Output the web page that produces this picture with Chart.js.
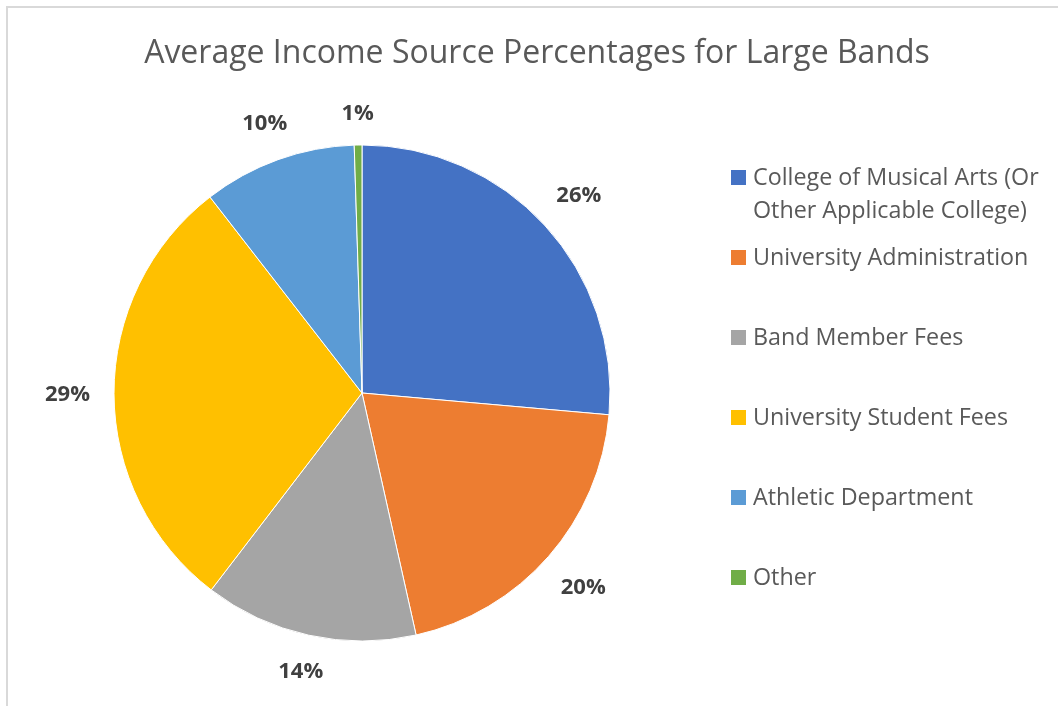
<!DOCTYPE html>
<html>
<head>
<meta charset="utf-8">
<script src="https://cdn.jsdelivr.net/npm/chart.js@4/dist/chart.umd.min.js"></script>
<style>
  html, body { margin: 0; padding: 0; background: #fff; overflow: hidden; }
  #frame { position: absolute; left: 6px; top: 6px; width: 1200px; height: 800px;
           border-left: 2px solid #d9d9d9; border-top: 2px solid #d9d9d9; }
  #wrap { position: absolute; left: 0; top: 0; width: 1058px; height: 706px; }
</style>
</head>
<body>
<div id="frame"></div>
<div id="wrap"><canvas id="pie"></canvas></div>
<script>
const chartTitle = 'Average Income Source Percentages for Large Bands';
const categories = [
  ['College of Musical Arts (Or', 'Other Applicable College)'],
  'University Administration',
  'Band Member Fees',
  'University Student Fees',
  'Athletic Department',
  'Other',
];
const shares = [26.4, 20.1, 13.9, 29.1, 10.0, 0.5];
const colors = ['#4472C4', '#ED7D31', '#A5A5A5', '#FFC000', '#5B9BD5', '#70AD47'];

const FONT = '"Open Sans", "Noto Sans", sans-serif';

// percentage labels just outside each slice
const pctLabels = {
  id: 'pctLabels',
  afterDatasetsDraw(chart) {
    const ctx = chart.ctx;
    const meta = chart.getDatasetMeta(0);
    const total = shares.reduce((a, b) => a + b, 0);
    ctx.save();
    ctx.font = 'bold 22px ' + FONT;
    ctx.fillStyle = '#404040';
    ctx.textAlign = 'center';
    ctx.textBaseline = 'middle';
    meta.data.forEach((arc, i) => {
      const p = arc.getProps(['x', 'y', 'startAngle', 'endAngle', 'outerRadius'], true);
      const mid = (p.startAngle + p.endAngle) / 2;
      const text = Math.round(shares[i] / total * 100) + '%';
      const w = ctx.measureText(text).width;
      const dx = Math.cos(mid), dy = Math.sin(mid);
      const d = p.outerRadius + 24 + Math.abs(dx) * w / 2 + Math.abs(dy) * 8;
      ctx.fillText(text, p.x + dx * d, p.y + dy * d + 1);
    });
    ctx.restore();
  }
};

// title + legend on the right
const sideText = {
  id: 'sideText',
  afterDraw(chart) {
    const ctx = chart.ctx;
    ctx.save();
    ctx.fillStyle = '#595959';
    ctx.font = '32px ' + FONT;
    ctx.textAlign = 'center';
    ctx.textBaseline = 'alphabetic';
    ctx.fillText(chartTitle, 537, 63);

    ctx.font = '23.3px ' + FONT;
    ctx.textAlign = 'left';
    ctx.textBaseline = 'middle';
    chart.data.labels.forEach((lab, i) => {
      const lines = [].concat(lab);
      const cy = 176 + 80 * i;
      ctx.fillStyle = colors[i];
      ctx.fillRect(731, cy - 6, 15, 15);
      ctx.fillStyle = '#595959';
      lines.forEach((ln, j) => ctx.fillText(ln, 753, cy + 2 + 33 * j));
    });
    ctx.restore();
  }
};

new Chart(document.getElementById('pie'), {
  type: 'pie',
  data: {
    labels: categories,
    datasets: [{
      data: shares,
      backgroundColor: colors,
      borderColor: '#ffffff',
      borderWidth: 1,
    }],
  },
  options: {
    responsive: true,
    maintainAspectRatio: false,
    animation: false,
    layout: { padding: { top: 144.5, bottom: 64.5, left: 113.5, right: 447.5 } },
    plugins: {
      legend: { display: false },
      title: { display: false },
      tooltip: { enabled: false },
    },
  },
  plugins: [pctLabels, sideText],
});
</script>
</body>
</html>
